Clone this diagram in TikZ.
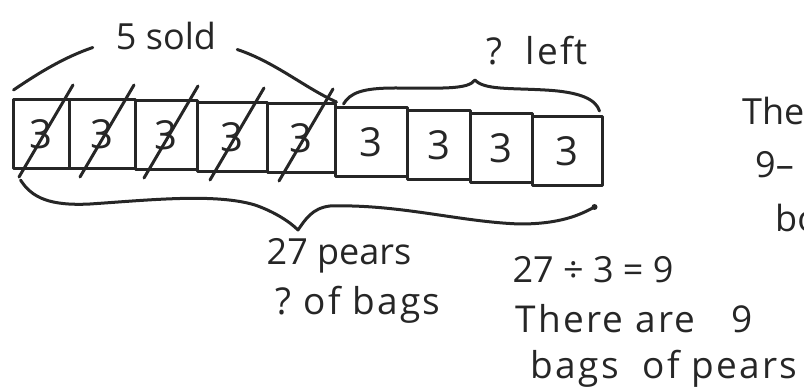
\documentclass[tikz,border=0pt]{standalone}
\usepackage{fontspec}
\setmainfont{Open Sans}
\begin{document}
\begin{tikzpicture}[x=1pt, y=-1pt, line cap=round, line join=round,
    pen/.style={line width=3pt, black!85},
    cell/.style={draw, pen, rectangle, inner sep=0pt, minimum height=69pt,
        font=\fontsize{40}{44}\selectfont},
    txt/.style={anchor=base, inner sep=0pt, text=black!85,
        font=\fontsize{36}{40}\selectfont},
    wide/.style={font=\fontsize{37}{40}\selectfont\addfontfeature{LetterSpace=6}}]
    % frame of the picture
    \useasboundingbox (0,0) rectangle (804,390);
    \clip (0,0) rectangle (804,390);

    % 1. Tape of 9 bags, 3 pears each
    \foreach \i/\a/\b/\y in {1/13/69/134, 2/69/135/134, 3/135/197/135,
        4/197/267/137, 5/267/335/138, 6/335/407/142, 7/407/470/145,
        8/470/532/148, 9/532/602/151}
        \node[cell, minimum width={\b-\a}] (b\i) at ({(\a+\b)/2}, \y) {3};

    % 2. The 5 sold bags are crossed out
    \foreach \i in {1,...,5}
        \draw[pen] ([shift={(-22,43)}]b\i.center) -- ([shift={(32,-49)}]b\i.center);

    % 3. Labels
    \node[txt] (sold) at (166,50) {5 sold};
    \node[txt, wide] (left) at (537,65) {?\ \ left};
    \node[txt] (pears) at (339,265) {27 pears};
    \node[txt, wide] (bags) at (358,315) {?\ of bags};
    \node[txt] (calc) at (593,283) {27 ÷ 3 = 9};
    \node[txt, wide] (are) at (634,333) {There are\ \ \ 9};
    \node[txt, wide] (pbags) at (664,378) {bags\ \ of pears};
    % text cut off at the right edge
    \node[txt, anchor=base west] (the) at (742,125) {The};
    \node[txt, anchor=base west] (nine) at (755,178) {9--};
    \node[txt, anchor=base west] (bo) at (775,232) {bo};

    % 4. Brace over the sold bags
    \draw[pen] ([shift={(2,-8)}]b1.north west) .. controls (40,72) and (65,57)
        .. ([shift={(-23,11)}]sold.west);
    \draw[pen] ([shift={(21,13)}]sold.east) .. controls (275,62) and (305,88)
        .. (b5.north east);

    % 5. Brace over the bags left
    \coordinate (lefttip) at (475,80);
    \draw[pen] ([shift={(10,-2)}]b6.north west) .. controls (350,93) and (362,88)
        .. (395,88) .. controls (440,88) and (468,90) .. (lefttip)
        .. controls (484,90) and (510,88) .. (545,90)
        .. controls (582,92) and (596,100) .. ([shift={(-4,-4)}]b9.north east);

    % 6. Brace under the whole tape
    \coordinate (pearstip) at (298,230);
    \coordinate (endbrace) at ([shift={(-9,20)}]b9.south east);
    \draw[pen] ([shift={(9,10)}]b1.south west) .. controls (32,198) and (50,206)
        .. (90,204) .. controls (150,200) and (215,193) .. (255,205)
        .. controls (275,212) and (290,222) .. (pearstip)
        .. controls (305,220) and (312,208) .. (330,206)
        .. controls (400,204) and (460,222) .. (520,224)
        .. controls (560,224) and (580,215) .. (endbrace);
    \fill[black!85] (endbrace) circle (3pt);
\end{tikzpicture}
\end{document}
